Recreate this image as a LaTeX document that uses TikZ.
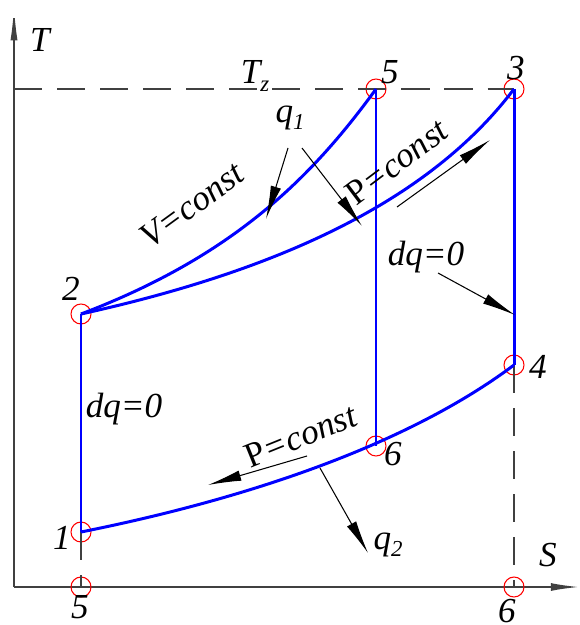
\documentclass[tikz,border=0pt]{standalone}
\usepackage{fontspec}
\setmainfont{Liberation Serif}
\usetikzlibrary{arrows.meta}
\newcommand{\lsub}[1]{\raisebox{-0.45ex}{\fontsize{13}{14}\selectfont #1}}
\tikzset{
  cyc/.style={draw=blue, line width=1.7pt},
  pt/.style={circle, draw=red, line width=0.6pt, minimum size=0.4cm, inner sep=0pt},
  lbl/.style={font=\fontsize{20}{22}\selectfont\itshape, inner sep=0pt},
  hint/.style={draw=black, line width=0.6pt, -{Latex[length=19pt, width=6pt]}},
  guide/.style={draw=black!75, line width=0.8pt, dash pattern=on 16pt off 8.5pt},
  axis/.style={draw=black!75, line width=0.9pt}
}

\begin{document}
\begin{tikzpicture}[x=0.02cm, y={(0cm,-0.02cm)}]
  \useasboundingbox (0,0) rectangle (579,625);

  % axes
  \coordinate (o) at (14,587);
  \coordinate (ttip) at (14,7);
  \coordinate (stip) at (579,587);
  \draw[axis, -{Latex[length=19pt, width=4pt]}] (o) -- (ttip);
  \draw[axis, -{Latex[length=16pt, width=4.5pt]}] (o) -- (stip);
  \node[lbl] (tlbl) at (40,40) {T};
  \node[lbl] (slbl) at (548,555) {S};

  % state points
  \node[pt] (p1) at (81,532) {};
  \node[pt] (p2) at (81,314) {};
  \node[pt] (p3) at (514,89) {};
  \node[pt] (p4) at (514,365) {};
  \node[pt] (p5) at (376,89) {};
  \node[pt] (p6) at (376,446) {};
  \node[pt] (b5) at (81,587) {};
  \node[pt] (b6) at (514,587) {};

  \node[lbl] (n1) at (62,538) {1};
  \node[lbl] (n2) at (71,289) {2};
  \node[lbl] (n3) at (516,68) {3};
  \node[lbl] (n4) at (538,367) {4};
  \node[lbl] (n5) at (390,72) {5};
  \node[lbl] (n6) at (393,454) {6};
  \node[lbl] (m5) at (80,607) {5};
  \node[lbl] (m6) at (507,611) {6};

  % guide lines
  \draw[guide] (o |- p3) -- (p3.center);
  \draw[guide] (p1.center) -- (b5.center);
  \draw[guide] (p4.center) -- (b6.center);
  \node[lbl] (tz) at (255,76) {T\lsub{z}};

  % cycle
  \draw[cyc] (p2.center) .. controls (231,257) and (310,180) .. (p5.center);
  \draw[cyc] (p2.center) .. controls (281,270) and (430,200) .. (p3.center);
  \draw[cyc] (p1.center) .. controls (261,496) and (414,440) .. (p4.center);
  \draw[cyc] (p1.center) -- (p2.center);
  \draw[cyc] (p5.center) -- (p6.center);
  \draw[cyc] (p3.center) -- (p4.center);

  % process labels
  \node[lbl, rotate=36] (vc) at (192,205) {V=const};
  \node[lbl, rotate=37] (pc) at (397,162) {{\upshape P}=const};
  \node[lbl, rotate=22] (pl) at (301,436) {{\upshape P}=const};
  \node[lbl] (dql) at (124,409) {dq=0};
  \node[lbl] (dqr) at (426,257) {dq=0};
  \node[lbl] (q1) at (290,118) {q\lsub{1}};
  \node[lbl] (q2) at (388,545) {q\lsub{2}};

  % hint arrows
  \coordinate (a1) at (288,148);
  \coordinate (a2) at (302,148);
  \coordinate (a3) at (397,207);
  \coordinate (a4) at (438,273);
  \coordinate (a5) at (307,456);
  \coordinate (a6) at (320,468);
  \coordinate (e1) at (266,219);
  \coordinate (e2) at (362,226);
  \coordinate (e3) at (490,140);
  \coordinate (e4) at (515,315);
  \coordinate (e5) at (208,485);
  \coordinate (e6) at (368,553);
  \draw[hint] (a1) -- (e1);
  \draw[hint] (a2) -- (e2);
  \draw[hint] (a3) -- (e3);
  \draw[hint] (a4) -- (e4);
  \draw[hint] (a5) -- (e5);
  \draw[hint] (a6) -- (e6);
\end{tikzpicture}
\end{document}
